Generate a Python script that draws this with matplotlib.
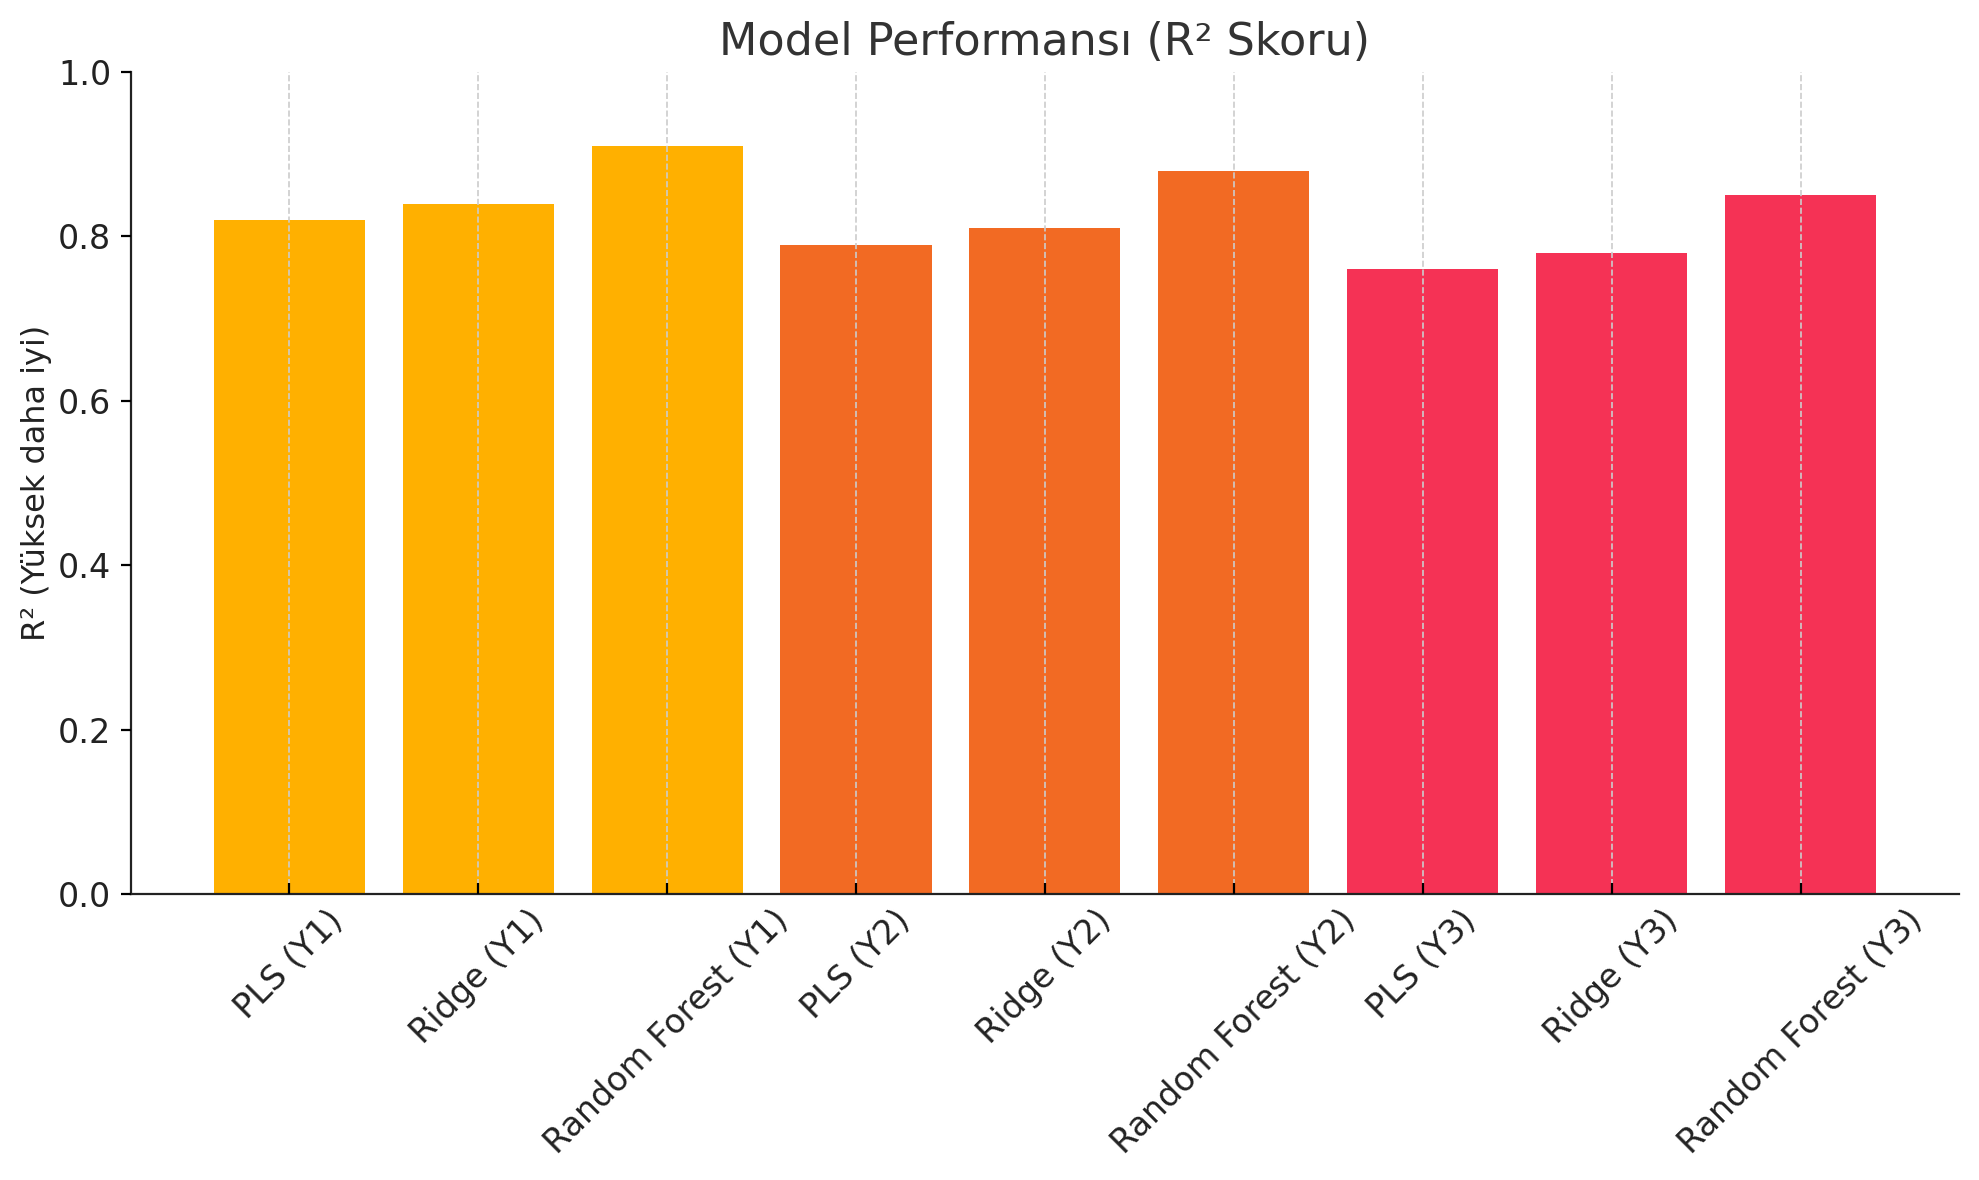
import numpy as np
import matplotlib.pyplot as plt

# model scores
labels = ['PLS (Y1)', 'Ridge (Y1)', 'Random Forest (Y1)',
          'PLS (Y2)', 'Ridge (Y2)', 'Random Forest (Y2)',
          'PLS (Y3)', 'Ridge (Y3)', 'Random Forest (Y3)']
r2 = [0.82, 0.84, 0.91, 0.79, 0.81, 0.88, 0.76, 0.78, 0.85]
colors = ['#FFB000'] * 3 + ['#F26A23'] * 3 + ['#F53255'] * 3

fig = plt.figure(figsize=(9.895, 5.9), dpi=200)
ax = fig.add_subplot(111)
fig.subplots_adjust(left=0.066, right=0.990, top=0.939, bottom=0.242)

x = np.arange(len(labels))
ax.bar(x, r2, color=colors, width=0.8)

ax.set_title('Model Performansı (R² Skoru)', fontsize=16, color='#333333')
ax.set_ylabel('R² (Yüksek daha iyi)', fontsize=11.5, color='#222222', labelpad=2)
ax.set_ylim(0, 1.0)
ax.set_xticks(x)
ax.set_xticklabels(labels, rotation=45, ha='center', fontsize=12, color='#222222')
ax.tick_params(axis='y', labelsize=12, labelcolor='#222222')
ax.tick_params(axis='x', direction='in', length=4)

ax.xaxis.grid(True, linestyle='--', color='#cccccc', linewidth=0.6)
ax.set_axisbelow(False)
for s in ['top', 'right']:
    ax.spines[s].set_visible(False)
for s in ['left', 'bottom']:
    ax.spines[s].set_color('#222222')

fig.savefig('out.png', dpi=200)
